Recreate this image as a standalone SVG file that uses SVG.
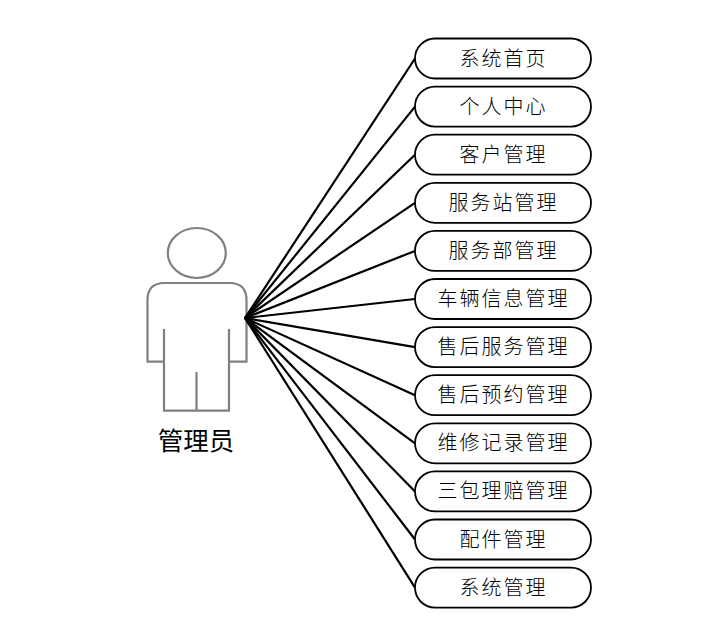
<svg xmlns="http://www.w3.org/2000/svg" width="713" height="629" viewBox="0 0 713 629">
<style>
.b{fill:#fff;stroke:#000;stroke-width:1.8}
.t{font-family:"Noto Sans CJK SC","Noto Sans CJK JP",serif;font-size:20px;font-weight:300;letter-spacing:2px;text-anchor:middle;fill:#000}
.c line{stroke:#000;stroke-width:2.2}
.p{fill:none;stroke:#808080;stroke-width:2.2;filter:url(#s)}
</style>
<defs><filter id="s" x="-5%" y="-5%" width="110%" height="110%"><feGaussianBlur stdDeviation="0.6"/></filter></defs>
<rect width="713" height="629" fill="#fff"/>
<g id="actor">
<ellipse class="p" cx="196.8" cy="253" rx="29" ry="25"/>
<path class="p" d="M164 361.7H147.5V300Q147.5 283 164.500 283H229.500Q246.500 283 246.500 300V361.700H229M164 329V410.700H229V329M196.500 372V410.700"/>
<text x="196" y="450" style="font-family:'Noto Sans CJK SC',sans-serif;font-size:25.500px;text-anchor:middle">管理员</text>
</g>
<g id="connectors" class="c">
<line x1="245" y1="318" x2="415" y2="58.500"/>
<line x1="245" y1="318" x2="415" y2="106.600"/>
<line x1="245" y1="318" x2="415" y2="154.700"/>
<line x1="245" y1="318" x2="415" y2="202.800"/>
<line x1="245" y1="318" x2="415" y2="250.900"/>
<line x1="245" y1="318" x2="415" y2="299"/>
<line x1="245" y1="318" x2="415" y2="347.100"/>
<line x1="245" y1="318" x2="415" y2="395.200"/>
<line x1="245" y1="318" x2="415" y2="443.300"/>
<line x1="245" y1="318" x2="415" y2="491.400"/>
<line x1="245" y1="318" x2="415" y2="539.500"/>
<line x1="245" y1="318" x2="415" y2="587.600"/>
</g>
<g id="n1"><rect class="b" x="415" y="38.500" width="176" height="40" rx="20"/><text class="t" x="503.500" y="65.500">系统首页</text></g>
<g id="n2"><rect class="b" x="415" y="86.600" width="176" height="40" rx="20"/><text class="t" x="503.500" y="113.600">个人中心</text></g>
<g id="n3"><rect class="b" x="415" y="134.700" width="176" height="40" rx="20"/><text class="t" x="503.500" y="161.700">客户管理</text></g>
<g id="n4"><rect class="b" x="415" y="182.800" width="176" height="40" rx="20"/><text class="t" x="503.500" y="209.800">服务站管理</text></g>
<g id="n5"><rect class="b" x="415" y="230.900" width="176" height="40" rx="20"/><text class="t" x="503.500" y="257.900">服务部管理</text></g>
<g id="n6"><rect class="b" x="415" y="279" width="176" height="40" rx="20"/><text class="t" x="503.500" y="306">车辆信息管理</text></g>
<g id="n7"><rect class="b" x="415" y="327.100" width="176" height="40" rx="20"/><text class="t" x="503.500" y="354.100">售后服务管理</text></g>
<g id="n8"><rect class="b" x="415" y="375.200" width="176" height="40" rx="20"/><text class="t" x="503.500" y="402.200">售后预约管理</text></g>
<g id="n9"><rect class="b" x="415" y="423.300" width="176" height="40" rx="20"/><text class="t" x="503.500" y="450.300">维修记录管理</text></g>
<g id="n10"><rect class="b" x="415" y="471.400" width="176" height="40" rx="20"/><text class="t" x="503.500" y="498.400">三包理赔管理</text></g>
<g id="n11"><rect class="b" x="415" y="519.500" width="176" height="40" rx="20"/><text class="t" x="503.500" y="546.500">配件管理</text></g>
<g id="n12"><rect class="b" x="415" y="567.600" width="176" height="40" rx="20"/><text class="t" x="503.500" y="594.600">系统管理</text></g>
</svg>
